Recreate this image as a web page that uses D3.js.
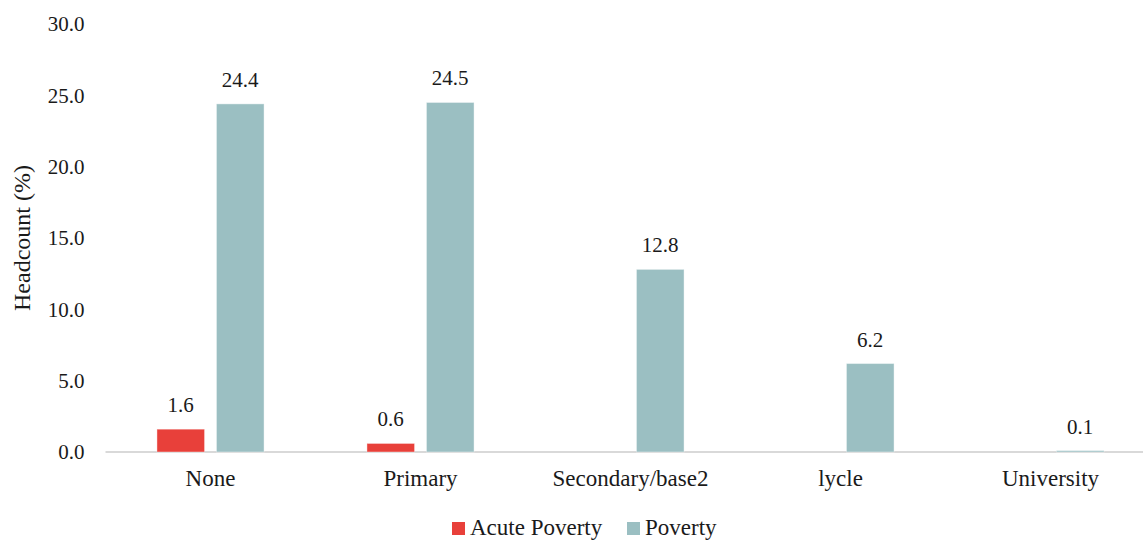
<!DOCTYPE html>
<html>
<head>
<meta charset="utf-8">
<script src="https://cdn.jsdelivr.net/npm/d3@7"></script>
<style>
  html, body { margin: 0; padding: 0; background: #fff; }
  svg { display: block; }
  svg text { font-family: "Liberation Serif", "Times New Roman", Times, "DejaVu Serif", serif; }
</style>
</head>
<body>
<svg id="chart" width="1143" height="541"></svg>
<script>
// Headcount by education level
const categories = ["None", "Primary", "Secondary/base2", "lycle", "University"];
const acutePoverty = [1.6, 0.6, null, null, null];
const poverty = [24.4, 24.5, 12.8, 6.2, 0.1];
const seriesNames = ["Acute Poverty", "Poverty"];
const seriesColors = ["#E8403A", "#9BBFC2"];
const yTicks = [0, 5, 10, 15, 20, 25, 30];

const svg = d3.select("#chart");
const margin = { left: 105.5, right: -12.5, top: 24, bottom: 89 };
const W = 1143, H = 541;
const plotW = W - margin.left - margin.right;
const plotH = H - margin.top - margin.bottom;

const x0 = d3.scaleBand().domain(categories).range([0, plotW]).paddingInner(0.49).paddingOuter(0.245);
const x1 = d3.scaleBand().domain(seriesNames).range([0, x0.bandwidth()]).paddingInner(0.2);
const y = d3.scaleLinear().domain([0, 30]).range([plotH, 0]);

const g = svg.append("g").attr("transform", `translate(${margin.left},${margin.top})`);

// Y axis tick labels (no axis line)
const yAxis = g.append("g").call(d3.axisLeft(y).tickValues(yTicks).tickFormat(d3.format(".1f")).tickSize(0).tickPadding(21));
yAxis.attr("font-family", null);
yAxis.select(".domain").remove();
yAxis.selectAll("text").attr("font-size", 21).attr("fill", "#1a1a1a");

// Baseline
g.append("line")
  .attr("x1", 0).attr("x2", plotW + 20)
  .attr("y1", y(0)).attr("y2", y(0))
  .attr("stroke", "#d9d9d9").attr("stroke-width", 2);

const rows = categories.map((c, i) => ({ cat: c, vals: [acutePoverty[i], poverty[i]] }));

const groups = g.selectAll("g.cat").data(rows).join("g")
  .attr("class", "cat")
  .attr("transform", d => `translate(${x0(d.cat)},0)`);

groups.selectAll("rect")
  .data(d => d.vals.map((v, j) => ({ v, s: seriesNames[j], c: seriesColors[j] })).filter(e => e.v != null))
  .join("rect")
  .attr("x", e => x1(e.s))
  .attr("width", x1.bandwidth())
  .attr("y", e => y(e.v))
  .attr("height", e => y(0) - y(e.v))
  .attr("fill", e => e.c)
  .attr("stroke", "#ffffff").attr("stroke-opacity", 0.4).attr("stroke-width", 1);

groups.selectAll("text.val")
  .data(d => d.vals.map((v, j) => ({ v, s: seriesNames[j] })).filter(e => e.v != null))
  .join("text")
  .attr("class", "val")
  .attr("x", e => x1(e.s) + x1.bandwidth() / 2)
  .attr("y", e => y(e.v) - 17)
  .attr("text-anchor", "middle")
  .attr("font-size", 21)
  .attr("fill", "#1a1a1a")
  .text(e => d3.format(".1f")(e.v));

// Category labels
const xAxis = g.append("g").attr("transform", `translate(0,${plotH})`)
  .call(d3.axisBottom(x0).tickSize(0).tickPadding(18));
xAxis.attr("font-family", null);
xAxis.select(".domain").remove();
xAxis.selectAll("text").attr("font-size", 23).attr("fill", "#1a1a1a");

// Y axis title
svg.append("text")
  .attr("transform", `translate(30,${margin.top + plotH / 2}) rotate(-90)`)
  .attr("text-anchor", "middle")
  .attr("font-size", 24)
  .attr("fill", "#1a1a1a")
  .text("Headcount (%)");

// Legend
const legend = svg.append("g").attr("transform", "translate(452,522)");
const items = [{ name: seriesNames[0], color: seriesColors[0], x: 0 }, { name: seriesNames[1], color: seriesColors[1], x: 175 }];
items.forEach(it => {
  legend.append("rect").attr("x", it.x).attr("y", 0).attr("width", 13).attr("height", 13).attr("fill", it.color);
  legend.append("text").attr("x", it.x + 18).attr("y", 13).attr("font-size", 23).attr("fill", "#1a1a1a").text(it.name);
});
</script>
</body>
</html>
